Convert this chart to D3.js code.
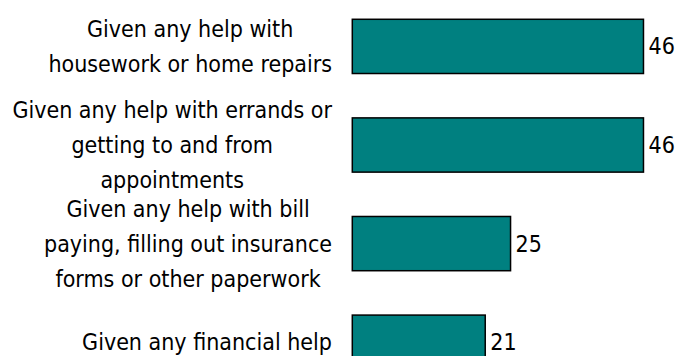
<!DOCTYPE html>
<html>
<head>
<meta charset="utf-8">
<script src="https://cdn.jsdelivr.net/npm/d3@7/dist/d3.min.js"></script>
<style>
  html, body { margin: 0; padding: 0; background: #ffffff; }
  svg { display: block; }
  text { font-family: "DejaVu Sans Condensed", "DejaVu Sans", sans-serif; fill: #000; }
</style>
</head>
<body>
<svg id="chart" width="675" height="356"></svg>
<script>
// Category labels (one entry per line) and values
const categories = [
  ["Given any help with", "housework or home repairs"],
  ["Given any help with errands or", "getting to and from", "appointments"],
  ["Given any help with bill", "paying, filling out insurance", "forms or other paperwork"],
  ["Given any financial help"]
];
const values = [46, 46, 25, 21];

const fontSize = 23;
const lineHeight = 35;
const labelRight = 332;

const svg = d3.select("#chart");
const ids = d3.range(categories.length);

const x = d3.scaleLinear().domain([0, 50]).range([352.3, 352.3 + 50 * 6.33]);
const y = d3.scaleBand().domain(ids).range([-2.9, -2.9 + 4 * 98.6])
  .paddingInner(0.45).paddingOuter(0.225);

// Bars
svg.append("g").selectAll("rect")
  .data(ids)
  .join("rect")
  .attr("x", x(0))
  .attr("y", i => y(i))
  .attr("width", i => x(values[i]) - x(0))
  .attr("height", y.bandwidth())
  .attr("fill", "#008080")
  .attr("stroke", "#000")
  .attr("stroke-width", 1.5);

// Value labels at bar ends
svg.append("g").selectAll("text")
  .data(ids)
  .join("text")
  .attr("x", i => x(values[i]) + 5)
  .attr("y", i => y(i) + y.bandwidth() / 2)
  .attr("dy", "0.35em")
  .style("font-size", fontSize + "px")
  .text(i => values[i]);

// Category labels: block right-aligned, lines centred within the block
const labels = svg.append("g");
ids.forEach(i => {
  const lines = categories[i];
  const g = labels.append("g");
  const ts = g.selectAll("text").data(lines).join("text")
    .style("font-size", fontSize + "px")
    .attr("text-anchor", "middle")
    .attr("dy", "0.35em")
    .text(d => d);
  let maxW = 0;
  ts.each(function () { maxW = Math.max(maxW, this.getComputedTextLength()); });
  const cx = labelRight - maxW / 2;
  const cy = y(i) + y.bandwidth() / 2;
  ts.attr("x", cx)
    .attr("y", (d, k) => cy + (k - (lines.length - 1) / 2) * lineHeight);
});
</script>
</body>
</html>
